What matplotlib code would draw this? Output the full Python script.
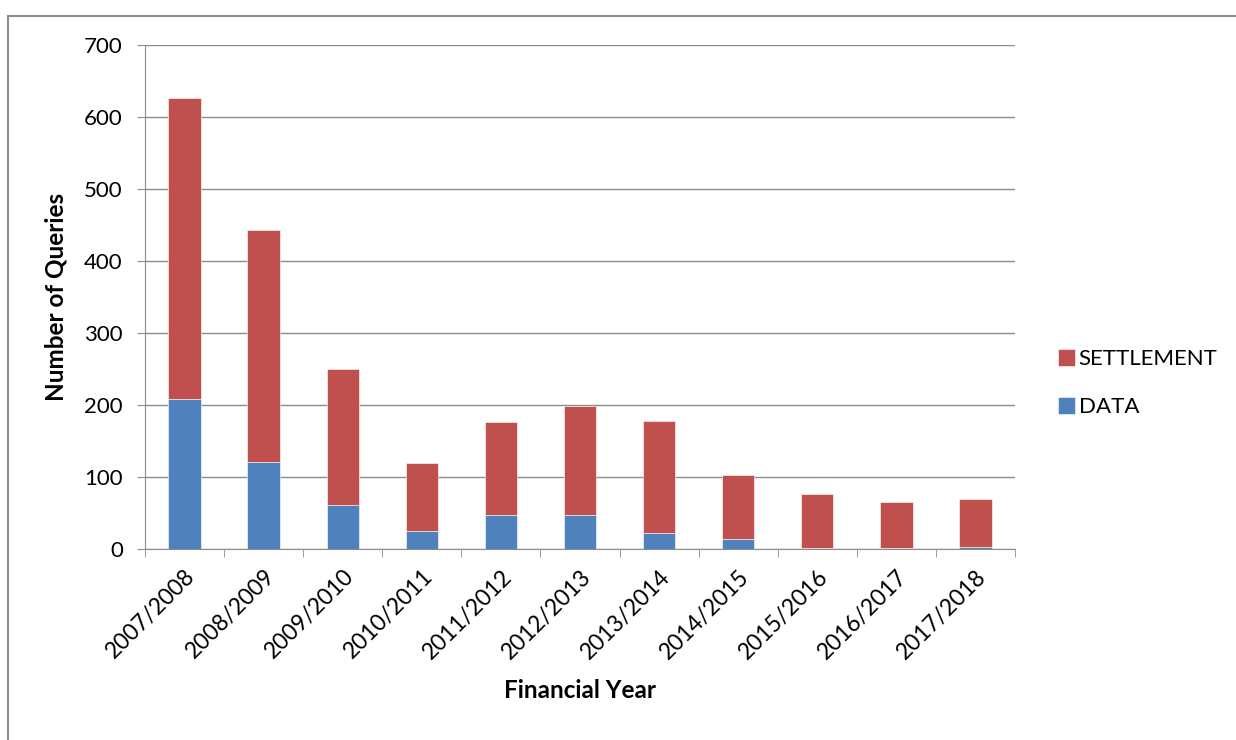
import numpy as np
import matplotlib.pyplot as plt
from matplotlib.patches import Rectangle

years = ["2007/2008", "2008/2009", "2009/2010", "2010/2011", "2011/2012",
         "2012/2013", "2013/2014", "2014/2015", "2015/2016", "2016/2017",
         "2017/2018"]
data = [208, 121, 61, 25, 47, 47, 22, 14, 2, 2, 3]
settlement = [418, 322, 189, 94, 129, 152, 156, 89, 74, 63, 66]

plt.rcParams['font.family'] = ['Lato', 'DejaVu Sans']

fig = plt.figure(figsize=(12.36, 7.4), dpi=100)
ax = fig.add_axes([145 / 1236, 1 - 549 / 740, 870 / 1236, 504 / 740])

# outer chart border (runs off the right and bottom edges)
fig.patches.append(Rectangle((8 / 1236, -0.05), 1.1, 1.05 - 16 / 740,
                             transform=fig.transFigure, fill=False,
                             edgecolor='#8c8c8c', linewidth=1.5))

x = np.arange(len(years))
blue = '#4f81bd'
red = '#c0504d'
ax.bar(x, data, width=0.41, color=blue, edgecolor='white', linewidth=0.4,
       label='DATA', zorder=3)
ax.bar(x, settlement, bottom=data, width=0.41, color=red, edgecolor='white',
       linewidth=0.4, label='SETTLEMENT', zorder=3)

ax.set_xlim(-0.5, len(years) - 0.5)
ax.set_ylim(0, 700)
ax.set_yticks(range(0, 701, 100))
ax.yaxis.grid(True, color='#8c8c8c', linewidth=1)
ax.set_axisbelow(True)

ax.set_xticks(x)
ax.set_xticklabels(years, rotation=45, ha='right', rotation_mode='anchor',
                   fontsize=16.5)
ax.set_xticks(np.arange(-0.5, len(years)), minor=True)
ax.tick_params(axis='x', which='major', length=0, pad=12)
ax.tick_params(axis='x', which='minor', length=6, color='#8c8c8c')
ax.tick_params(axis='y', length=6, color='#8c8c8c', labelsize=16, pad=10)

for side in ['top', 'right']:
    ax.spines[side].set_visible(False)
for side in ['left', 'bottom']:
    ax.spines[side].set_color('#8c8c8c')

ax.set_ylabel('Number of Queries', fontsize=17.5, fontweight='bold', labelpad=12)
ax.set_xlabel('Financial Year', fontsize=17.5, fontweight='bold', labelpad=12)

handles, labels = ax.get_legend_handles_labels()
ax.legend(handles[::-1], labels[::-1], loc='center left',
          bbox_to_anchor=(0.049, 0.329), bbox_transform=ax.transAxes,
          borderaxespad=0, borderpad=0, frameon=False, fontsize=16,
          handlelength=0.8, handleheight=0.8, handletextpad=0.15,
          labelspacing=1.26)
ax.get_legend().set_bbox_to_anchor((1.049, 0.329), transform=ax.transAxes)

fig.savefig('out.png', dpi=100)
